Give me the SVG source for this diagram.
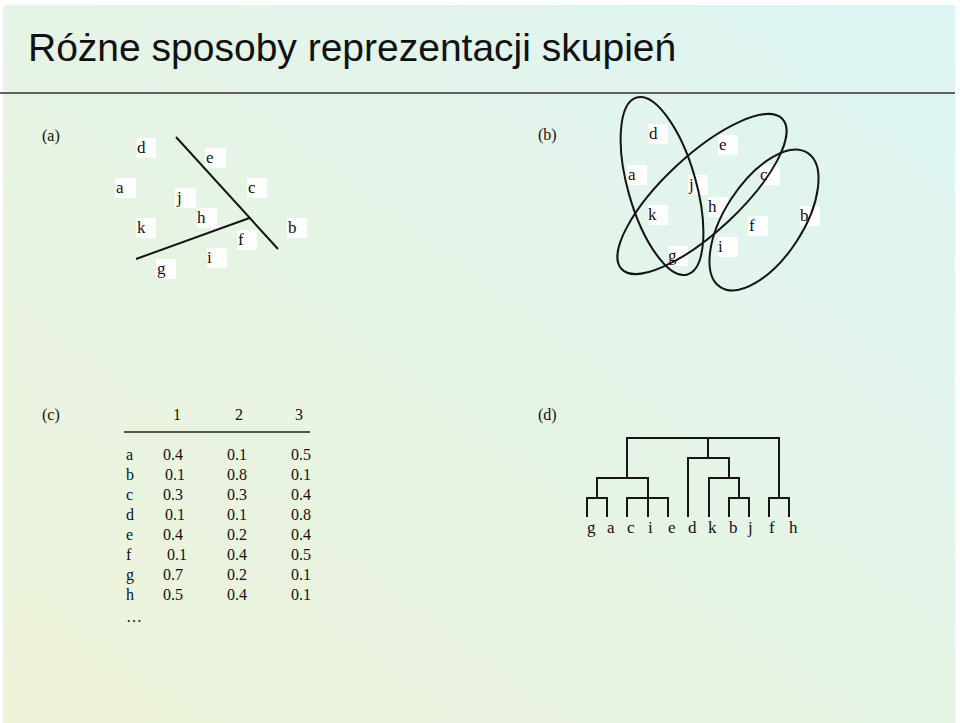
<svg xmlns="http://www.w3.org/2000/svg" width="960" height="723" viewBox="0 0 960 723">
<defs>
<linearGradient id="bg" x1="0" y1="1" x2="1" y2="0">
<stop offset="0" stop-color="#EEF3D9"/>
<stop offset="0.5" stop-color="#E6F4E6"/>
<stop offset="1" stop-color="#DDF5F4"/>
</linearGradient>
<style>
.t{font-family:"Liberation Serif","Times New Roman",serif;font-size:17px;fill:#111}
.tb{font-family:"Liberation Serif","Times New Roman",serif;font-size:16px;fill:#111}
.title{font-family:"Liberation Sans",Arial,sans-serif;font-size:39px;fill:#111}
.box{fill:#fff;stroke:none}
.ln{fill:none;stroke:#151515;stroke-width:2}
.el{fill:none;stroke:#151515;stroke-width:2}
</style>
</defs>
<rect x="0" y="0" width="960" height="723" fill="#fff"/>
<rect x="3" y="5" width="952" height="718" fill="url(#bg)"/>
<g id="title">
<text class="title" x="28" y="61">Różne sposoby reprezentacji skupień</text>
<line x1="0" y1="93" x2="955" y2="93" stroke="#333" stroke-width="1.5"/>
</g>

<g id="panel-a">
<text class="tb" x="42" y="141">(a)</text>
<g id="a-d"><rect class="box" x="136" y="138" width="20" height="20"/><text class="t" x="137" y="153">d</text></g>
<g id="a-e"><rect class="box" x="205" y="148" width="21" height="20"/><text class="t" x="206" y="163">e</text></g>
<g id="a-a"><rect class="box" x="115" y="178" width="21" height="20"/><text class="t" x="116" y="193">a</text></g>
<g id="a-c"><rect class="box" x="247" y="178" width="20" height="20"/><text class="t" x="248" y="193">c</text></g>
<g id="a-j"><rect class="box" x="175" y="188" width="21" height="20"/><text class="t" x="177" y="203">j</text></g>
<g id="a-h"><rect class="box" x="197" y="208" width="20" height="20"/><text class="t" x="197" y="223">h</text></g>
<g id="a-k"><rect class="box" x="136" y="218" width="20" height="20"/><text class="t" x="137" y="233">k</text></g>
<g id="a-b"><rect class="box" x="287" y="218" width="20" height="20"/><text class="t" x="288" y="233">b</text></g>
<g id="a-f"><rect class="box" x="237" y="230" width="20" height="20"/><text class="t" x="238" y="245">f</text></g>
<g id="a-i"><rect class="box" x="207" y="248" width="20" height="20"/><text class="t" x="207" y="263">i</text></g>
<g id="a-g"><rect class="box" x="156" y="259" width="20" height="20"/><text class="t" x="157" y="274">g</text></g>
<g id="a-lines">
<path class="ln" d="M176 137 L278 249 M136 259 L249.5 218"/>
</g>
</g>

<g id="panel-b">
<text class="tb" x="538" y="140">(b)</text>
<g id="b-d"><rect class="box" x="648" y="124" width="20" height="20"/><text class="t" x="649" y="139">d</text></g>
<g id="b-e"><rect class="box" x="718" y="135" width="20" height="20"/><text class="t" x="719" y="150">e</text></g>
<g id="b-a"><rect class="box" x="627" y="165" width="20" height="20"/><text class="t" x="628" y="180">a</text></g>
<g id="b-j"><rect class="box" x="688" y="175" width="20" height="20"/><text class="t" x="689" y="190">j</text></g>
<g id="b-c"><rect class="box" x="760" y="165" width="20" height="20"/><text class="t" x="760" y="180">c</text></g>
<g id="b-h"><rect class="box" x="708" y="197" width="20" height="20"/><text class="t" x="708" y="212">h</text></g>
<g id="b-k"><rect class="box" x="648" y="205" width="20" height="20"/><text class="t" x="648" y="220">k</text></g>
<g id="b-f"><rect class="box" x="748" y="216" width="20" height="20"/><text class="t" x="749" y="231">f</text></g>
<g id="b-b"><rect class="box" x="800" y="206" width="20" height="20"/><text class="t" x="800" y="221">b</text></g>
<g id="b-i"><rect class="box" x="718" y="237" width="20" height="20"/><text class="t" x="718" y="252">i</text></g>
<g id="b-g"><rect class="box" x="668" y="246" width="20" height="20"/><text class="t" x="668" y="261">g</text></g>
<g id="b-clusters">
<ellipse class="el" cx="662" cy="186" rx="92" ry="34" transform="rotate(74 662 186)"/>
<ellipse class="el" cx="702" cy="194" rx="110" ry="38" transform="rotate(-43 702 194)"/>
<ellipse class="el" cx="764" cy="220" rx="80" ry="39" transform="rotate(-57 764 220)"/>
</g>
</g>

<g id="panel-c">
<text class="tb" x="42" y="420">(c)</text>
<g id="c-header">
<text class="tb" x="173" y="420">1</text>
<text class="tb" x="235" y="420">2</text>
<text class="tb" x="295" y="420">3</text>
<line x1="124" y1="432" x2="310" y2="432" stroke="#222" stroke-width="1.5"/>
</g>
<g id="c-rows" class="tb">
<text x="126" y="460">a</text><text x="163" y="460">0.4</text><text x="227" y="460">0.1</text><text x="291" y="460">0.5</text>
<text x="126" y="480">b</text><text x="165" y="480">0.1</text><text x="227" y="480">0.8</text><text x="291" y="480">0.1</text>
<text x="126" y="500">c</text><text x="163" y="500">0.3</text><text x="227" y="500">0.3</text><text x="291" y="500">0.4</text>
<text x="126" y="520">d</text><text x="165" y="520">0.1</text><text x="227" y="520">0.1</text><text x="291" y="520">0.8</text>
<text x="126" y="540">e</text><text x="163" y="540">0.4</text><text x="227" y="540">0.2</text><text x="291" y="540">0.4</text>
<text x="126" y="560">f</text><text x="167" y="560">0.1</text><text x="227" y="560">0.4</text><text x="291" y="560">0.5</text>
<text x="126" y="580">g</text><text x="163" y="580">0.7</text><text x="227" y="580">0.2</text><text x="291" y="580">0.1</text>
<text x="126" y="600">h</text><text x="163" y="600">0.5</text><text x="227" y="600">0.4</text><text x="291" y="600">0.1</text>
<text x="126" y="622">…</text>
</g>
</g>

<g id="panel-d">
<text class="tb" x="538" y="420">(d)</text>
<g id="d-leaves" class="t">
<text x="587" y="533">g</text>
<text x="607" y="533">a</text>
<text x="627" y="533">c</text>
<text x="648" y="533">i</text>
<text x="668" y="533">e</text>
<text x="688" y="533">d</text>
<text x="708" y="533">k</text>
<text x="729" y="533">b</text>
<text x="748" y="533">j</text>
<text x="769" y="533">f</text>
<text x="789" y="533">h</text>
</g>
<g id="d-connectors">
<path class="ln" d="M587 517 V498 H607 V517 M597 498 V478 H648 V517 M627 517 V498 H668 V517 M627 478 V438 H779 V498 M769 517 V498 H789 V517 M708 438 V458 M688 517 V458 H729 V478 M709 517 V478 H739 V498 M729 517 V498 H749 V517"/>
</g>
</g>
</svg>
